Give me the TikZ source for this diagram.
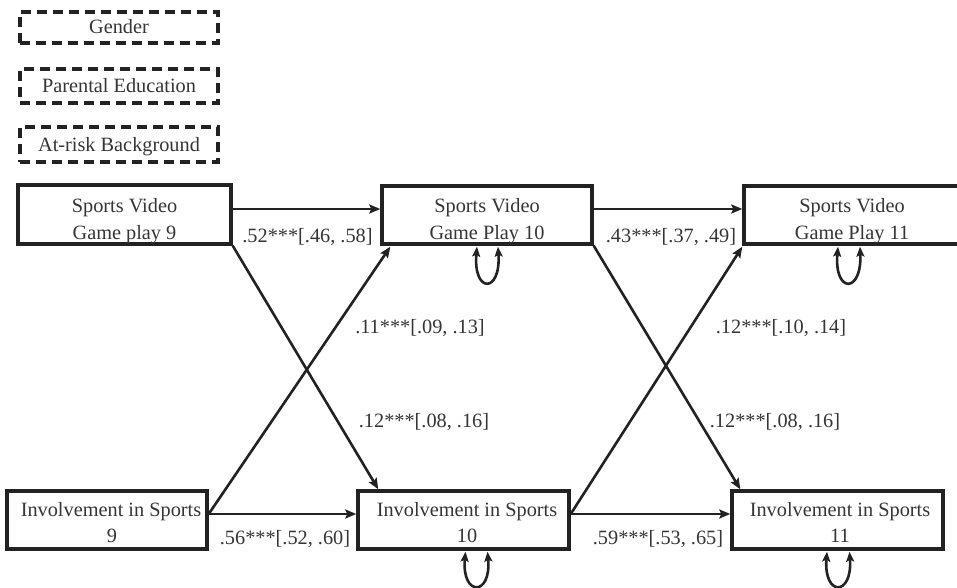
\documentclass[tikz,border=0pt]{standalone}
\usepackage{fontspec}
\setmainfont{Liberation Serif}
\usetikzlibrary{arrows.meta,calc}
\definecolor{ink}{HTML}{222222}
\definecolor{txt}{HTML}{353535}
\begin{document}
\begin{tikzpicture}[x=1pt,y=-1pt,
  every node/.style={font=\fontsize{20.3}{26}\selectfont, text=txt, inner sep=0pt},
  solidbox/.style={draw=ink, line width=3.4pt, fill=white},
  dashbox/.style={draw=ink, line width=3.2pt, dash pattern=on 10pt off 6pt},
  conn/.style={draw=ink, line width=2.6pt, -{Stealth[length=11pt,width=9pt,inset=2pt]}},
  loopc/.style={draw=ink, line width=2.6pt, {Stealth[length=10pt,width=8pt,inset=2pt]}-{Stealth[length=10pt,width=8pt,inset=2pt]}},
  lbl/.style={anchor=base}]
\clip (0,0) rectangle (957,588);
\fill[white] (0,0) rectangle (957,588);

% covariates (dashed)
\node[dashbox, minimum width=198pt, minimum height=31pt] (gen) at (119,27.5) {};
\node[lbl] (gent) at (119,34) {Gender};
\node[dashbox, minimum width=198pt, minimum height=34pt] (par) at (119,86) {};
\node[lbl] (part) at (119,93) {Parental Education};
\node[dashbox, minimum width=198pt, minimum height=35pt] (risk) at (119,144.5) {};
\node[lbl] (riskt) at (119,152) {At-risk Background};

% sports video game boxes
\node[solidbox, minimum width=213pt, minimum height=59pt] (sv9) at (124.5,214.5) {};
\node[lbl] (sv9a) at (124.5,212) {Sports Video};
\node[lbl] (sv9b) at (124.5,239) {Game play 9};
\node[solidbox, minimum width=210pt, minimum height=58pt] (sv10) at (487,215) {};
\node[lbl] (sv10a) at (487,212) {Sports Video};
\node[lbl] (sv10b) at (487,239) {Game Play 10};
\node[solidbox, minimum width=216pt, minimum height=58pt] (sv11) at (852,215) {};
\node[lbl] (sv11a) at (852,212) {Sports Video};
\node[lbl] (sv11b) at (852,239) {Game Play 11};

% involvement boxes
\node[solidbox, minimum width=200pt, minimum height=58pt] (inv9) at (107,520) {};
\node[lbl] (inv9a) at (111,516) {Involvement in Sports};
\node[lbl] (inv9b) at (112,542) {9};
\node[solidbox, minimum width=211pt, minimum height=58pt] (inv10) at (463.5,520) {};
\node[lbl] (inv10a) at (467,516) {Involvement in Sports};
\node[lbl] (inv10b) at (467,542) {10};
\node[solidbox, minimum width=211pt, minimum height=58pt] (inv11) at (837.5,520) {};
\node[lbl] (inv11a) at (840,516) {Involvement in Sports};
\node[lbl] (inv11b) at (840,542) {11};

% stability paths
\draw[conn] ($(sv9.east)+(0,-5.5)$) -- ($(sv10.west)+(0,-6)$);
\draw[conn] ($(sv10.east)+(0,-6)$) -- ($(sv11.west)+(0,-6)$);
\draw[conn] ($(inv9.east)+(0,-6)$) -- ($(inv10.west)+(0,-6)$);
\draw[conn] ($(inv10.east)+(0,-6)$) -- ($(inv11.west)+(0,-6)$);

% cross-lagged paths
\draw[conn] (sv9.south east) -- ($(inv10.north west)+(22,0)$);
\draw[conn] ($(inv9.east)+(0,-6)$) -- ($(sv10.south west)+(10,1)$);
\draw[conn] (sv10.south east) -- ($(inv11.north west)+(10,0)$);
\draw[conn] ($(inv10.east)+(0,-6)$) -- ($(sv11.south west)+(0,1)$);

% residual loops
\draw[loopc] ($(sv10.south)+(-10,1)$) .. controls ($(sv10.south)+(-14,48)$) and ($(sv10.south)+(14,48)$) .. ($(sv10.south)+(11,1)$);
\draw[loopc] ($(sv11.south)+(-14,1)$) .. controls ($(sv11.south)+(-18,48)$) and ($(sv11.south)+(10,48)$) .. ($(sv11.south)+(8,1)$);
\draw[loopc] ($(inv10.south)+(2,1)$) .. controls ($(inv10.south)+(-2,46)$) and ($(inv10.south)+(28,46)$) .. ($(inv10.south)+(24,1)$);
\draw[loopc] ($(inv11.south)+(-10.5,1)$) .. controls ($(inv11.south)+(-14,46)$) and ($(inv11.south)+(15,46)$) .. ($(inv11.south)+(12,1)$);

% path labels
\node[lbl] (l1) at (307.5,242) {.52***[.46, .58]};
\node[lbl] (l2) at (671,242) {.43***[.37, .49]};
\node[lbl] (l3) at (285,544) {.56***[.52, .60]};
\node[lbl] (l4) at (658,544) {.59***[.53, .65]};
\node[lbl] (l5) at (420,333) {.11***[.09, .13]};
\node[lbl] (l6) at (424,427) {.12***[.08, .16]};
\node[lbl] (l7) at (781,333) {.12***[.10, .14]};
\node[lbl] (l8) at (775,427) {.12***[.08, .16]};
\end{tikzpicture}
\end{document}
